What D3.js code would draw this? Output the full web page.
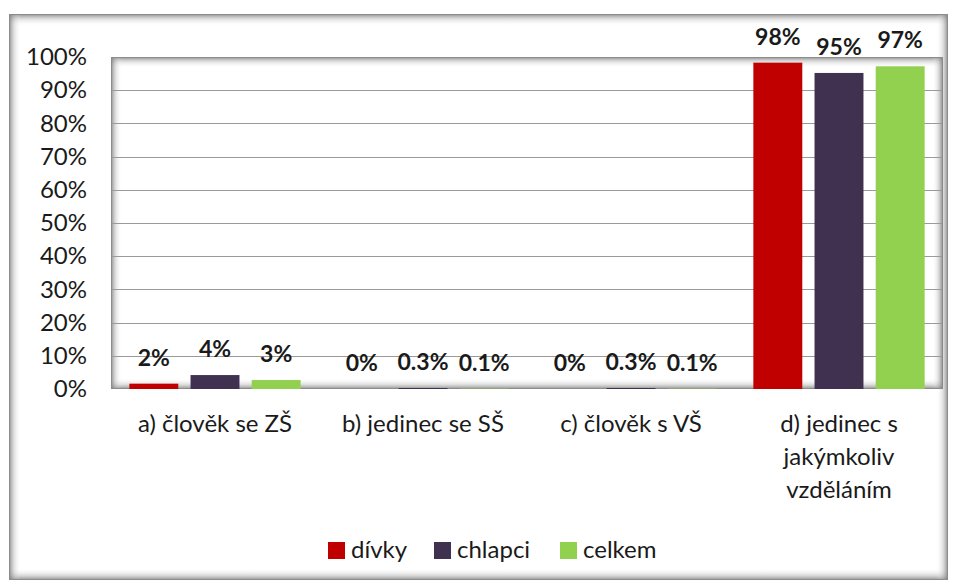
<!DOCTYPE html>
<html>
<head>
<meta charset="utf-8">
<script src="https://d3js.org/d3.v7.min.js"></script>
<style>
  body { margin: 0; background: #fff; }
  text { font-family: Lato, "Open Sans", sans-serif; fill: #1a1a1a; }
</style>
</head>
<body>
<div id="chart"></div>
<script>
// data
const categories = ["a) člověk se ZŠ", "b) jedinec se SŠ", "c) člověk s VŠ", "d) jedinec s jakýmkoliv vzděláním"];
const categoryLines = [["a) člověk se ZŠ"], ["b) jedinec se SŠ"], ["c) člověk s VŠ"], ["d) jedinec s", "jakýmkoliv", "vzděláním"]];
const seriesNames = ["dívky", "chlapci", "celkem"];
const seriesColors = ["#c00000", "#403151", "#92d050"];
const divky = [1.6, 0, 0, 98.3];
const chlapci = [4.2, 0.3, 0.3, 95.2];
const celkem = [2.7, 0.1, 0.1, 97.2];
const divkyLabels = ["2%", "0%", "0%", "98%"];
const chlapciLabels = ["4%", "0.3%", "0.3%", "95%"];
const celkemLabels = ["3%", "0.1%", "0.1%", "97%"];
const yTicks = [0, 10, 20, 30, 40, 50, 60, 70, 80, 90, 100];

const series = [divky, chlapci, celkem];
const seriesLabels = [divkyLabels, chlapciLabels, celkemLabels];

const width = 960, height = 583;
const plot = { left: 111, top: 57, right: 943, bottom: 389 };

const svg = d3.select("#chart").append("svg")
  .attr("width", width)
  .attr("height", height);

const defs = svg.append("defs");
// inset shadow gradients
[["shT", 0, 0, 0, 1], ["shB", 0, 1, 0, 0], ["shL", 0, 0, 1, 0], ["shR", 1, 0, 0, 0]].forEach(([id, x1, y1, x2, y2]) => {
  const g = defs.append("linearGradient").attr("id", id)
    .attr("x1", x1).attr("y1", y1).attr("x2", x2).attr("y2", y2);
  g.append("stop").attr("offset", 0).attr("stop-color", "#707070").attr("stop-opacity", 0.8);
  g.append("stop").attr("offset", 0.4).attr("stop-color", "#a8a8a8").attr("stop-opacity", 0.4);
  g.append("stop").attr("offset", 1).attr("stop-color", "#ffffff").attr("stop-opacity", 0);
});

function insetFrame(x, y, w, h, s, sides) {
  const g = svg.append("g");
  if (sides.includes("t")) g.append("rect").attr("x", x).attr("y", y).attr("width", w).attr("height", s).attr("fill", "url(#shT)");
  if (sides.includes("b")) g.append("rect").attr("x", x).attr("y", y + h - s).attr("width", w).attr("height", s).attr("fill", "url(#shB)");
  if (sides.includes("l")) g.append("rect").attr("x", x).attr("y", y).attr("width", s).attr("height", h).attr("fill", "url(#shL)");
  if (sides.includes("r")) g.append("rect").attr("x", x + w - s).attr("y", y).attr("width", s).attr("height", h).attr("fill", "url(#shR)");
  g.append("rect").attr("x", x + 0.5).attr("y", y + 0.5).attr("width", w - 1).attr("height", h - 1)
    .attr("fill", "none").attr("stroke", "#8c8c8c").attr("stroke-width", 1);
}

// outer chart frame
insetFrame(9, 14, 939, 566, 12, "tblr");

// scales
const x0 = d3.scaleBand()
  .domain(categories)
  .range([plot.left, plot.right])
  .paddingInner(0)
  .paddingOuter(0);

const x1 = d3.scaleBand()
  .domain(seriesNames)
  .range([0, x0.bandwidth()])
  .paddingInner(0.2)
  .paddingOuter(0.3);

const y = d3.scaleLinear()
  .domain([0, 100])
  .range([plot.bottom, plot.top]);

// plot area
insetFrame(plot.left, plot.top, plot.right - plot.left, plot.bottom - plot.top, 11, "tblr");

// gridlines
svg.append("g")
  .selectAll("line")
  .data(yTicks.filter(t => t > 0 && t < 100))
  .join("line")
  .attr("x1", plot.left + 1)
  .attr("x2", plot.right - 1)
  .attr("y1", d => Math.round(y(d)) + 0.5)
  .attr("y2", d => Math.round(y(d)) + 0.5)
  .attr("stroke", "#9a9a9a")
  .attr("stroke-width", 1);

// y axis labels
const yAxis = svg.append("g")
  .attr("transform", `translate(${plot.left},0)`)
  .call(d3.axisLeft(y).tickValues(yTicks).tickFormat(d => d + "%").tickSize(0).tickPadding(24));
yAxis.select(".domain").remove();
yAxis.selectAll("text")
  .style("font-family", "Lato, 'Open Sans', sans-serif")
  .style("font-size", "24px")
  .attr("fill", "#1a1a1a");

// bars
const groups = svg.append("g")
  .selectAll("g")
  .data(categories)
  .join("g")
  .attr("transform", d => `translate(${x0(d)},0)`);

groups.selectAll("rect")
  .data((d, i) => series.map((s, j) => ({ name: seriesNames[j], value: s[i], color: seriesColors[j] })))
  .join("rect")
  .attr("x", d => x1(d.name))
  .attr("width", x1.bandwidth())
  .attr("y", d => y(d.value))
  .attr("height", d => y(0) - y(d.value))
  .attr("fill", d => d.color);

groups.selectAll("text.val")
  .data((d, i) => series.map((s, j) => ({ name: seriesNames[j], value: s[i], label: seriesLabels[j][i] })))
  .join("text")
  .attr("class", "val")
  .attr("x", d => x1(d.name) + x1.bandwidth() / 2)
  .attr("y", d => y(d.value) - 18)
  .attr("text-anchor", "middle")
  .style("font-size", "23px")
  .style("font-weight", "bold")
  .text(d => d.label);

// category labels
const catLabels = svg.append("g")
  .selectAll("text")
  .data(categories)
  .join("text")
  .attr("x", d => x0(d) + x0.bandwidth() / 2)
  .attr("y", 432)
  .attr("text-anchor", "middle")
  .style("font-size", "24px");

catLabels.selectAll("tspan")
  .data((d, i) => categoryLines[i])
  .join("tspan")
  .attr("x", function () { return d3.select(this.parentNode).attr("x"); })
  .attr("dy", (d, i) => i === 0 ? 0 : 33)
  .text(d => d);

// legend
const legendX = [328, 434, 560];
const legend = svg.append("g")
  .selectAll("g")
  .data(seriesNames)
  .join("g")
  .attr("transform", (d, i) => `translate(${legendX[i]},542)`);

legend.append("rect")
  .attr("width", 17)
  .attr("height", 17)
  .attr("fill", (d, i) => seriesColors[i]);

legend.append("text")
  .attr("x", 23)
  .attr("y", 16)
  .style("font-size", "24px")
  .text(d => d);
</script>
</body>
</html>
